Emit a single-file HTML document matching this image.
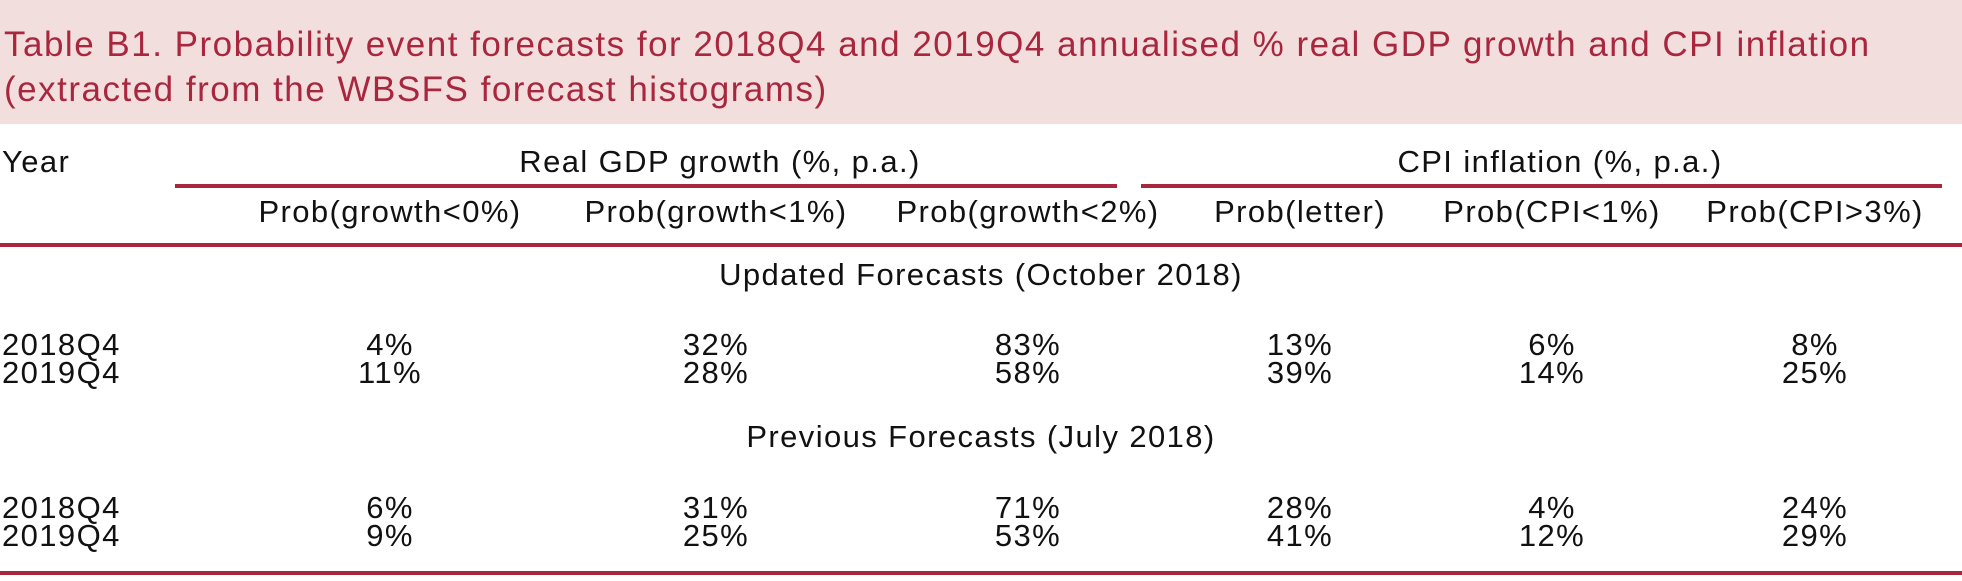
<!DOCTYPE html>
<html><head><meta charset="utf-8"><style>
body{margin:0;width:1962px;height:581px;background:#fff;position:relative;overflow:hidden;font-family:"Liberation Sans",sans-serif;color:#111}
.a{position:absolute;white-space:nowrap}
.c{transform:translateX(-50%)}
.t{font-size:31px;letter-spacing:1.4px}
.band{position:absolute;left:0;top:0;width:1962px;height:124px;background:#f2dfdd}
.title{color:#a8273f;font-size:35px;letter-spacing:1.5px;left:4px}
.rl{position:absolute;background:#a8273f}
</style></head><body>
<div class="band"></div>
<div class="a title" style="top:25px">Table B1. Probability event forecasts for 2018Q4 and 2019Q4 annualised % real GDP growth and CPI inflation</div>
<div class="a title" style="top:70px">(extracted from the WBSFS forecast histograms)</div>
<div class="a t" style="left:2px;top:144px">Year</div>
<div class="a t c" style="left:720px;top:144px">Real GDP growth (%, p.a.)</div>
<div class="a t c" style="left:1560px;top:144px">CPI inflation (%, p.a.)</div>
<div class="rl" style="left:175px;top:184px;width:942px;height:4px"></div>
<div class="rl" style="left:1141px;top:184px;width:801px;height:4px"></div>
<div class="rl" style="left:0;top:243px;width:1962px;height:4px"></div>
<div class="a t c" style="left:981px;top:257px">Updated Forecasts (October 2018)</div>
<div class="a t c" style="left:981px;top:419px">Previous Forecasts (July 2018)</div>
<div class="rl" style="left:0;top:571px;width:1962px;height:4px"></div>
<script>
const cols=["Prob(growth<0%)","Prob(growth<1%)","Prob(growth<2%)","Prob(letter)","Prob(CPI<1%)","Prob(CPI>3%)"];
const years=["2018Q4","2019Q4","2018Q4","2019Q4"];
const values=[["4%","32%","83%","13%","6%","8%"],["11%","28%","58%","39%","14%","25%"],["6%","31%","71%","28%","4%","24%"],["9%","25%","53%","41%","12%","29%"]];
const cx=[390,716,1028,1300,1552,1815];
const rowY=[327,355,490,518];
function mk(txt,x,y,center){const d=document.createElement('div');d.className='a t'+(center?' c':'');d.style.left=x+'px';d.style.top=y+'px';d.textContent=txt;document.body.appendChild(d);return d;}
cols.forEach((c,i)=>{const d=mk(c,cx[i],194,true);

});
years.forEach((y,r)=>{const d=mk(y,2,rowY[r],false);


values[r].forEach((v,i)=>{const e=mk(v,cx[i],rowY[r],true);

});});
</script>
</body></html>
